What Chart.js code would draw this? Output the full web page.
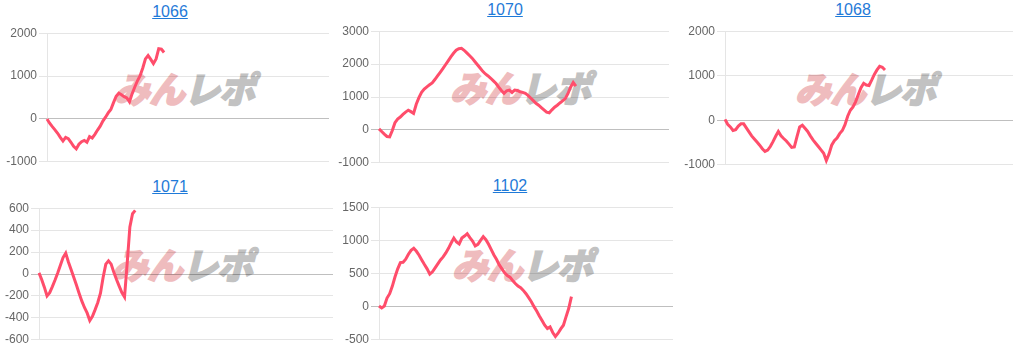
<!DOCTYPE html>
<html>
<head>
<meta charset="utf-8">
<script src="https://cdn.jsdelivr.net/npm/chart.js@4/dist/chart.umd.min.js"></script>
<style>
  html, body { margin: 0; padding: 0; background: #fff; }
  body { width: 1023px; height: 352px; position: relative; overflow: hidden; font-family: "Liberation Sans", Arial, sans-serif; }
  .title { position: absolute; width: 120px; text-align: center; font-size: 16px; }
  .title a { color: #1f7ad8; text-decoration: underline; }
  .wm { position: absolute; width: 200px; text-align: center; font-family: "Noto Sans CJK JP", sans-serif; font-weight: 900; font-size: 36px; line-height: 36px; transform: skewX(-14deg); white-space: nowrap; letter-spacing: -1px; }
  .wm .a { color: #efbcbe; -webkit-text-stroke: 1.5px #efbcbe; }
  .wm .b { color: #c2c2c2; -webkit-text-stroke: 1.5px #c2c2c2; }
  canvas { position: absolute; }
</style>
</head>
<body>
<script>
// titles of the five machines
const titles = ['1066', '1070', '1068', '1071', '1102'];

// slot counts along the (hidden) x axis of each chart
const slotCounts = [107, 110, 109, 111, 111];

// y axis ticks
const yMins = [-1000, -1000, -1000, -600, -500];
const yMaxs = [2000, 3000, 2000, 600, 1500];
const ySteps = [1000, 1000, 1000, 200, 500];

// series values
const data1066 = [0, -100, -180, -255, -335, -430, -515, -430, -460, -545, -640, -700, -590, -530, -500,
  -545, -410, -445, -360, -260, -170, -50, 40, 140, 220, 380, 530, 600, 565, 520, 490, 400, 590, 745,
  890, 1010, 1190, 1400, 1480, 1390, 1290, 1400, 1640, 1630, 1550];
const data1070 = [30, -50, -130, -200, -210, -20, 220, 330, 390, 470, 540, 600, 555, 500, 780, 980, 1140,
  1240, 1310, 1370, 1430, 1530, 1640, 1750, 1860, 1980, 2100, 2220, 2330, 2420, 2470, 2480, 2420, 2340,
  2260, 2180, 2080, 1980, 1880, 1780, 1700, 1640, 1570, 1490, 1410, 1300, 1200, 1110, 1190, 1210, 1140,
  1210, 1200, 1160, 1140, 1110, 1050, 970, 890, 810, 750, 680, 610, 540, 520, 610, 690, 750, 820, 880,
  950, 1100, 1300, 1440, 1330];
const data1068 = [20, -90, -150, -230, -210, -130, -80, -80, -170, -260, -350, -420, -490, -560, -640, -700,
  -670, -590, -480, -360, -250, -350, -410, -465, -535, -610, -600, -370, -150, -110, -180, -250, -350,
  -440, -515, -590, -665, -740, -905, -760, -560, -460, -400, -300, -230, -100, 90, 225, 300, 420, 580,
  730, 830, 790, 780, 900, 1030, 1130, 1210, 1190, 1130];
const data1071 = [10, -50, -120, -200, -170, -115, -55, 10, 80, 150, 190, 110, 40, -30, -100, -175, -245,
  -305, -355, -425, -385, -325, -260, -175, -30, 90, 120, 90, 15, -50, -110, -170, -210, 100, 430, 550, 580];
const data1102 = [10, -20, 10, 130, 195, 310, 450, 570, 665, 670, 715, 790, 850, 880, 835, 775, 705, 635,
  570, 490, 525, 585, 645, 705, 750, 810, 880, 960, 1035, 975, 945, 1035, 1065, 1100, 1040, 990, 915,
  940, 1000, 1055, 1010, 940, 860, 780, 710, 630, 570, 510, 470, 445, 395, 350, 310, 285, 245, 195, 135,
  75, 0, -65, -140, -210, -280, -330, -305, -390, -450, -400, -335, -280, -150, -25, 150];

const seriesList = [data1066, data1070, data1068, data1071, data1102];

// layout: canvas box, y-axis width, title centre/top
const boxes = [
  { left: 2,   top: 24,  w: 327, h: 147, axisW: 45, titleX: 170, titleY: 3 },
  { left: 335, top: 22,  w: 334, h: 150, axisW: 44, titleX: 505, titleY: 1 },
  { left: 681, top: 22,  w: 332, h: 152, axisW: 44, titleX: 853, titleY: 1 },
  { left: 1,   top: 199, w: 332, h: 150, axisW: 38, titleX: 170, titleY: 178 },
  { left: 339, top: 198, w: 334, h: 151, axisW: 40, titleX: 510, titleY: 177 }
];

const LINE = '#ff4d6b';

titles.forEach((t, i) => {
  const b = boxes[i];

  const title = document.createElement('div');
  title.className = 'title';
  title.style.left = (b.titleX - 60) + 'px';
  title.style.top = b.titleY + 'px';
  title.innerHTML = '<a href="#">' + t + '</a>';
  document.body.appendChild(title);

  // watermark sits behind the plot, centred a little above the plot centre
  const plotL = b.left + b.axisW, plotR = b.left + b.w;
  const plotT = b.top + 8, plotB = b.top + b.h - 8;
  const wm = document.createElement('div');
  wm.className = 'wm';
  wm.style.left = ((plotL + plotR) / 2 - 100) + 'px';
  wm.style.top = ((plotT + plotB) / 2 - 9 - 20) + 'px';
  wm.innerHTML = '<span class="a">みん</span><span class="b">レポ</span>';
  document.body.appendChild(wm);

  const cv = document.createElement('canvas');
  cv.width = b.w;
  cv.height = b.h;
  cv.style.left = b.left + 'px';
  cv.style.top = b.top + 'px';
  document.body.appendChild(cv);

  const labels = Array.from({ length: slotCounts[i] }, (_, k) => k + 1);

  new Chart(cv, {
    type: 'line',
    data: {
      labels: labels,
      datasets: [{
        data: seriesList[i],
        borderColor: LINE,
        borderWidth: 3,
        pointRadius: 0,
        fill: false,
        tension: 0
      }]
    },
    options: {
      responsive: false,
      animation: false,
      layout: { padding: { top: 8, bottom: 8, left: 0, right: 0 } },
      plugins: { legend: { display: false }, tooltip: { enabled: false } },
      scales: {
        x: { display: false },
        y: {
          min: yMins[i],
          max: yMaxs[i],
          ticks: {
            stepSize: ySteps[i],
            color: '#666',
            padding: 2,
            font: { family: "'Liberation Sans', Arial, sans-serif", size: 12 },
            callback: v => String(v)
          },
          grid: {
            tickLength: 8,
            color: ctx => (ctx.tick && ctx.tick.value === 0) ? 'rgba(0,0,0,0.25)' : 'rgba(0,0,0,0.1)'
          },
          border: { color: 'rgba(0,0,0,0.1)' },
          afterFit: s => { s.width = b.axisW; }
        }
      }
    }
  });
});
</script>
</body>
</html>
